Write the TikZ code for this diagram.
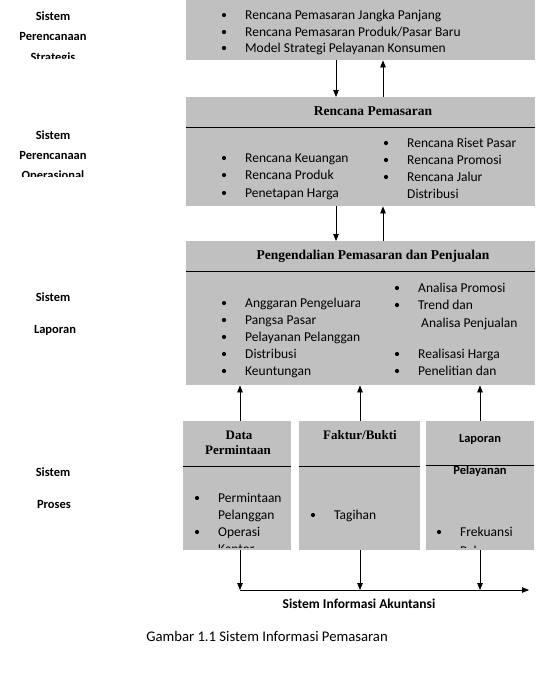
\documentclass[tikz,border=0pt]{standalone}
\usepackage{fontspec}
\setmainfont{Carlito}
\newfontfamily\serifb{Liberation Serif}
\usetikzlibrary{arrows.meta}
\definecolor{boxgray}{HTML}{C0C0C0}
\newcommand{\bodyfs}{\fontsize{13.5}{16}\selectfont}
\newcommand{\labfs}{\fontsize{12.5}{15}\selectfont\bfseries}
\newcommand{\titfs}{\fontsize{13.5}{16}\selectfont\serifb\bfseries}
\newcommand{\stitfs}{\fontsize{13}{15}\selectfont\serifb\bfseries}
\newcommand{\itm}[4]{%
  \fill (#2-21,#3-4) circle (2.1);
  \node[txt] (#1) at (#2,#3) {#4};}
\begin{document}
\begin{tikzpicture}[x=1pt,y=-1pt,
  box/.style={fill=boxgray, draw=none, inner sep=0pt, anchor=north west},
  txt/.style={anchor=base west, inner sep=0pt, font=\bodyfs},
  lab/.style={anchor=base, inner sep=0pt, font=\labfs},
  tit/.style={anchor=base, inner sep=0pt, font=\titfs},
  stit/.style={anchor=base, inner sep=0pt, font=\stitfs},
  arr/.style={-{Triangle[width=5.5pt,length=7pt]}, line width=0.8pt},
  div/.style={line width=0.9pt}]
\useasboundingbox (0,0) rectangle (538,673);
% ---------- boxes ----------
\node[box, minimum width=349pt, minimum height=60pt]  (b1) at (186,0) {};
\node[box, minimum width=349pt, minimum height=109pt] (b2) at (186,97) {};
\node[box, minimum width=349pt, minimum height=144pt] (b3) at (186,241) {};
\node[box, minimum width=108pt, minimum height=129pt] (ba) at (183,421) {};
\node[box, minimum width=121pt, minimum height=129pt] (bb) at (299,421) {};
\node[box, minimum width=108pt, minimum height=129pt] (bc) at (426,421) {};
% dividers
\draw[div] (b2.west |- 0,127) -- (b2.east |- 0,127);
\draw[div] (b3.west |- 0,271) -- (b3.east |- 0,271);
\draw[div] (ba.west |- 0,466) -- (ba.east |- 0,466);
\draw[div] (bb.west |- 0,466) -- (bb.east |- 0,466);
\draw[div] (bc.west |- 0,465) -- (bc.east |- 0,465);
% ---------- box 1 ----------
\itm{t11}{245}{19}{Rencana Pemasaran Jangka Panjang}
\itm{t12}{245}{36}{Rencana Pemasaran Produk/Pasar Baru}
\itm{t13}{245}{52}{Model Strategi Pelayanan Konsumen}
% ---------- box 2 ----------
\node[tit] (h2) at (373,115) {Rencana Pemasaran};
\itm{t21}{245}{162}{Rencana Keuangan}
\itm{t22}{245}{179}{Rencana Produk}
\itm{t23}{245}{197}{Penetapan Harga}
\itm{t24}{407}{147}{Rencana Riset Pasar}
\itm{t25}{407}{164}{Rencana Promosi}
\itm{t26}{407}{181}{Rencana Jalur}
\node[txt] (t27) at (407,198) {Distribusi};
% ---------- box 3 ----------
\node[tit] (h3) at (373,259) {Pengendalian Pemasaran dan Penjualan};
\begin{scope}
\clip (186,241) rectangle (359,385);
\itm{t31}{245}{307}{Anggaran Pengeluaran}
\itm{t32}{245}{324}{Pangsa Pasar}
\itm{t33}{245}{341}{Pelayanan Pelanggan}
\itm{t34}{245}{358}{Distribusi}
\itm{t35}{245}{375}{Keuntungan}
\end{scope}
\itm{t36}{418}{292}{Analisa Promosi}
\itm{t37}{418}{309}{Trend dan}
\node[txt] (t38) at (421,327) {Analisa Penjualan};
\itm{t39}{418}{358}{Realisasi Harga}
\itm{t3a}{418}{375}{Penelitian dan}
% ---------- bottom boxes ----------
\node[stit] (ha1) at (239,439) {Data};
\node[stit] (ha2) at (238,454) {Permintaan};
\node[stit] (hb) at (360,439) {Faktur/Bukti};
\node[lab] (hc1) at (480,442) {Laporan};
\begin{scope}
\clip (426,466) rectangle (534,550);
\node[lab] (hc2) at (480,474) {Pelayanan};
\end{scope}
\begin{scope}
\clip (183,421) rectangle (291,547);
\itm{ta1}{218}{502}{Permintaan}
\node[txt] (ta2) at (218,519) {Pelanggan};
\itm{ta3}{218}{536}{Operasi}
\node[txt] (ta4) at (218,553) {Kantor};
\end{scope}
\itm{tb1}{334}{519}{Tagihan}
\begin{scope}
\clip (426,421) rectangle (534,547);
\itm{tc1}{460}{536}{Frekuansi}
\node[txt] (tc2) at (460,555) {Pelanggan};
\end{scope}
% ---------- left labels ----------
\node[lab] (l11) at (53,20) {Sistem};
\node[lab] (l12) at (53,40) {Perencanaan};
\begin{scope}
\clip (0,0) rectangle (120,58);
\node[lab] (l13) at (53,61) {Strategis};
\end{scope}
\node[lab] (l21) at (53,139) {Sistem};
\node[lab] (l22) at (53,159) {Perencanaan};
\begin{scope}
\clip (0,100) rectangle (120,176.5);
\node[lab] (l23) at (53,179) {Operasional};
\end{scope}
\node[lab] (l31) at (53,301) {Sistem};
\node[lab] (l32) at (55,333) {Laporan};
\node[lab] (l41) at (53,476) {Sistem};
\node[lab] (l42) at (54,508) {Proses};
% ---------- arrows ----------
\draw[arr] (b1.south -| 336,0) -- (b2.north -| 336,0);
\draw[arr] (b2.north -| 383,0) -- (b1.south -| 383,0);
\draw[arr] (b2.south -| 336,0) -- (b3.north -| 336,0);
\draw[arr] (b3.north -| 383,0) -- (b2.south -| 383,0);
\draw[arr] (ba.north -| 240,0) -- (b3.south -| 240,0);
\draw[arr] (bb.north -| 360,0) -- (b3.south -| 360,0);
\draw[arr] (bc.north -| 480,0) -- (b3.south -| 480,0);
\coordinate (pa) at (240,590);
\coordinate (pb) at (360,590);
\coordinate (pc) at (480,590);
\coordinate (pend) at (529,590);
\draw[arr] (ba.south -| pa) -- (pa);
\draw[arr] (bb.south -| pb) -- (pb);
\draw[arr] (bc.south -| pc) -- (pc);
\draw[arr] (pa) -- (pend);
\node[lab, font=\fontsize{13.5}{16}\selectfont\bfseries] (sia) at (359,608) {Sistem Informasi Akuntansi};
\node[anchor=base, inner sep=0pt, font=\fontsize{14.7}{17}\selectfont] (cap) at (267,641) {Gambar 1.1 Sistem Informasi Pemasaran};
\end{tikzpicture}
\end{document}
